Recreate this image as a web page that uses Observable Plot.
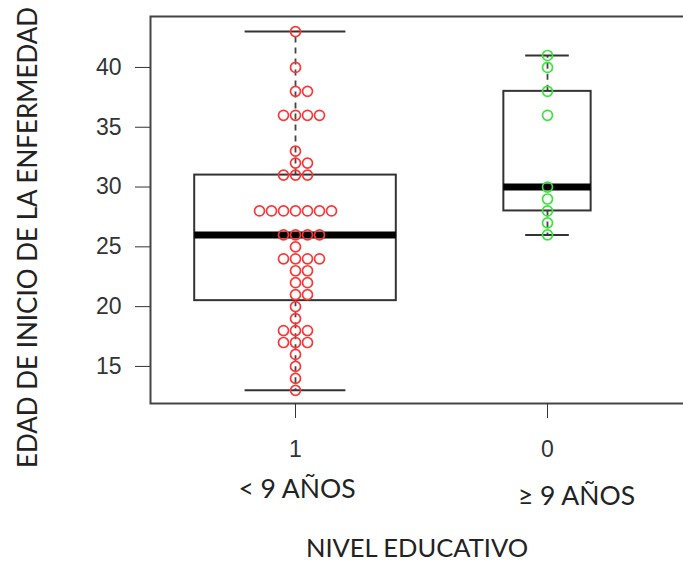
<!DOCTYPE html>
<html><head><meta charset="utf-8">
<script src="https://cdn.jsdelivr.net/npm/d3@7"></script>
<script src="https://cdn.jsdelivr.net/npm/@observablehq/plot@0.6"></script>
<style>html,body{margin:0;padding:0;background:#fff;} #chart svg{display:block}</style>
</head><body><div id="chart"></div>
<script>
const categories = ["1", "0"];
const groupLabels = ["< 9 AÑOS", "≥ 9 AÑOS"];
const groupColors = ["#ff3535", "#35e835"];
const valuesLow = [43, 40, 38, 38, 36, 36, 36, 36, 33, 32, 32, 31, 31, 31,
  28, 28, 28, 28, 28, 28, 28, 26, 26, 26, 26, 25, 24, 24, 24, 24, 23, 23,
  22, 22, 21, 21, 20, 19, 18, 18, 18, 17, 17, 17, 16, 15, 14, 13];
const valuesHigh = [41, 40, 38, 36, 30, 29, 28, 27, 26];
const yTicks = [15, 20, 25, 30, 35, 40];
const yTitle = "EDAD DE INICIO DE LA ENFERMEDAD";
const xTitle = "NIVEL EDUCATIVO";

const groups = [valuesLow, valuesHigh].map((vals, i) => ({pos: i + 1, cat: categories[i], label: groupLabels[i], color: groupColors[i], vals}));

function fivenum(x) {
  const s = x.slice().sort((a, b) => a - b), n = s.length;
  const n4 = Math.floor((n + 3) / 2) / 2;
  return [1, n4, (n + 1) / 2, n + 1 - n4, n].map(v => 0.5 * (s[Math.floor(v) - 1] + s[Math.ceil(v) - 1]));
}
const maxN = d3.max(groups, g => g.vals.length);
const boxes = groups.map(g => {
  const [, lo, med, hi] = fivenum(g.vals);
  const iqr = hi - lo;
  const wlo = d3.min(g.vals.filter(v => v >= lo - 1.5 * iqr));
  const whi = d3.max(g.vals.filter(v => v <= hi + 1.5 * iqr));
  const hw = 0.4 * Math.sqrt(g.vals.length) / Math.sqrt(maxN);
  return {pos: g.pos, lo, med, hi, wlo, whi, hw};
});
const SWARM = 12 / 252;
const points = groups.flatMap(g => {
  const count = new Map();
  return g.vals.map(v => {
    const k = count.get(v) || 0; count.set(v, k + 1);
    const off = k === 0 ? 0 : (k % 2 ? (k + 1) / 2 : -k / 2);
    return {x: g.pos + off * SWARM, y: v, color: g.color};
  });
});

const chart = Plot.plot({
  width: 683, height: 563,
  marginLeft: 150, marginRight: -3, marginTop: 16, marginBottom: 160,
  x: {type: "linear", domain: [0.4246, 2.5516]},
  y: {domain: [11.9, 44.26]},
  style: {fontFamily: "Liberation Sans", overflow: "hidden", background: "white"},
  marks: [
    Plot.ruleX(boxes, {x: "pos", y1: "hi", y2: "whi", stroke: "#444", strokeWidth: 1.8, strokeDasharray: "6,5"}),
    Plot.ruleX(boxes, {x: "pos", y1: "lo", y2: "wlo", stroke: "#444", strokeWidth: 1.8, strokeDasharray: "6,5"}),
    Plot.ruleY(boxes, {y: "whi", x1: d => d.pos - d.hw / 2, x2: d => d.pos + d.hw / 2, stroke: "#333", strokeWidth: 2}),
    Plot.ruleY(boxes, {y: "wlo", x1: d => d.pos - d.hw / 2, x2: d => d.pos + d.hw / 2, stroke: "#333", strokeWidth: 2}),
    Plot.rect(boxes, {x1: d => d.pos - d.hw, x2: d => d.pos + d.hw, y1: "lo", y2: "hi", fill: "none", stroke: "#333", strokeWidth: 2}),
    Plot.ruleY(boxes, {y: "med", x1: d => d.pos - d.hw, x2: d => d.pos + d.hw, stroke: "black", strokeWidth: 7}),
    Plot.dot(points, {x: "x", y: "y", r: 5, stroke: "color", strokeWidth: 1.7, fill: "none"}),
    Plot.frame({stroke: "#444", strokeWidth: 2}),
    Plot.axisY(yTicks, {tickSize: 15, tickPadding: 14, fontSize: 23, color: "#333", label: null}),
    Plot.axisX([1, 2], {tickFormat: d => categories[d - 1], tickSize: 15, tickPadding: 22, fontSize: 23, color: "#333", label: null}),
    Plot.text([groups[0]], {x: "pos", text: "label", frameAnchor: "bottom", lineAnchor: "middle", textAnchor: "middle", dx: 1.5, dy: 86, fontSize: 26.5, fontFamily: "Lato", fill: "#222"}),
    Plot.text([groups[1]], {x: "pos", text: "label", frameAnchor: "bottom", lineAnchor: "middle", textAnchor: "middle", dx: 29, dy: 93, fontSize: 26.5, fontFamily: "Lato", fill: "#222"}),
    Plot.text([xTitle], {frameAnchor: "bottom", lineAnchor: "middle", textAnchor: "middle", dx: -1.5, dy: 145, fontSize: 25.5, fontFamily: "Lato", fill: "#222"}),
    Plot.text([yTitle], {frameAnchor: "left", lineAnchor: "middle", textAnchor: "middle", rotate: -90, dx: -122, dy: 27.5, fontSize: 26, fontFamily: "Lato", fill: "#222"})
  ]
});
document.getElementById("chart").appendChild(chart);
</script>
</body></html>
